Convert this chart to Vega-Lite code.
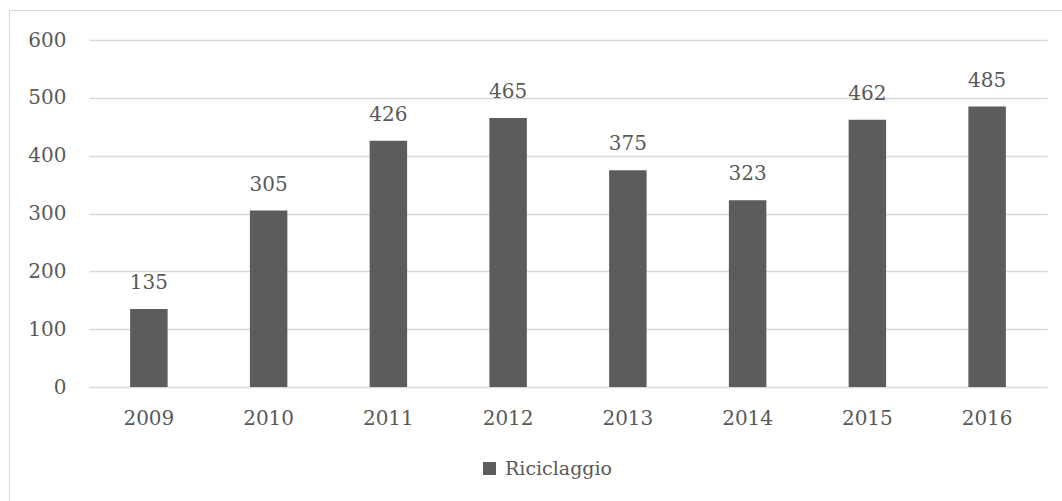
{
  "$schema": "https://vega.github.io/schema/vega-lite/v6.json",
  "width": 958,
  "height": 347,
  "autosize": {"type": "none"},
  "padding": {"left": 89, "top": 40, "right": 15, "bottom": 114},
  "background": "white",
  "config": {
    "font": "DejaVu Serif",
    "view": {"stroke": null},
    "axis": {"labelFont": "DejaVu Serif", "labelColor": "#595959", "labelFontSize": 20, "ticks": false, "title": null}
  },
  "datasets": {
    "bars": [
      {"anno": "2009", "valore": 135, "serie": "Riciclaggio"},
      {"anno": "2010", "valore": 305, "serie": "Riciclaggio"},
      {"anno": "2011", "valore": 426, "serie": "Riciclaggio"},
      {"anno": "2012", "valore": 465, "serie": "Riciclaggio"},
      {"anno": "2013", "valore": 375, "serie": "Riciclaggio"},
      {"anno": "2014", "valore": 323, "serie": "Riciclaggio"},
      {"anno": "2015", "valore": 462, "serie": "Riciclaggio"},
      {"anno": "2016", "valore": 485, "serie": "Riciclaggio"}
    ],
    "frame": [
      {"fx1": -1.164, "fx2": 7.69, "fy1": -212.7, "fy2": 651}
    ]
  },
  "resolve": {"scale": {"x": "independent"}},
  "layer": [
    {
      "data": {"name": "frame"},
      "mark": {"type": "rect", "fill": null, "fillOpacity": 0, "stroke": "#d9d9d9", "strokeWidth": 1, "clip": false},
      "encoding": {
        "x": {"field": "fx1", "type": "quantitative", "scale": {"domain": [-0.5, 7.5], "nice": false, "zero": false}, "axis": null},
        "x2": {"field": "fx2"},
        "y": {
          "field": "fy1", "type": "quantitative", "scale": {"domain": [0, 600], "nice": false},
          "axis": {"values": [0, 100, 200, 300, 400, 500, 600], "domain": false, "grid": true, "gridColor": "#d9d9d9", "gridWidth": 1.5, "labelPadding": 23}
        },
        "y2": {"field": "fy2"}
      }
    },
    {
      "data": {"name": "bars"},
      "layer": [
        {
          "mark": {"type": "bar", "color": "#5c5c5c"},
          "encoding": {
            "x": {
              "field": "anno", "type": "nominal",
              "scale": {"paddingInner": 0.687, "paddingOuter": 0.3435},
              "axis": {"labelAngle": 0, "domain": false, "labelPadding": 21, "grid": false}
            },
            "y": {
              "field": "valore", "type": "quantitative",
              "scale": {"domain": [0, 600], "nice": false},
              "axis": {"values": [0, 100, 200, 300, 400, 500, 600], "domain": false, "grid": true, "gridColor": "#d9d9d9", "gridWidth": 1.5, "labelPadding": 23}
            },
            "color": {
              "field": "serie", "type": "nominal",
              "scale": {"range": ["#5c5c5c"]},
              "legend": {
                "title": null, "orient": "none", "legendX": 391, "legendY": 419,
                "symbolType": "square", "symbolSize": 169, "symbolStrokeWidth": 0,
                "labelFont": "DejaVu Serif", "labelFontSize": 19, "labelColor": "#595959",
                "labelOffset": 6
              }
            }
          }
        },
        {
          "mark": {"type": "text", "baseline": "alphabetic", "dy": -20, "fontSize": 20, "font": "DejaVu Serif", "color": "#595959"},
          "encoding": {
            "x": {"field": "anno", "type": "nominal"},
            "y": {"field": "valore", "type": "quantitative"},
            "text": {"field": "valore", "type": "quantitative"}
          }
        }
      ]
    }
  ]
}
